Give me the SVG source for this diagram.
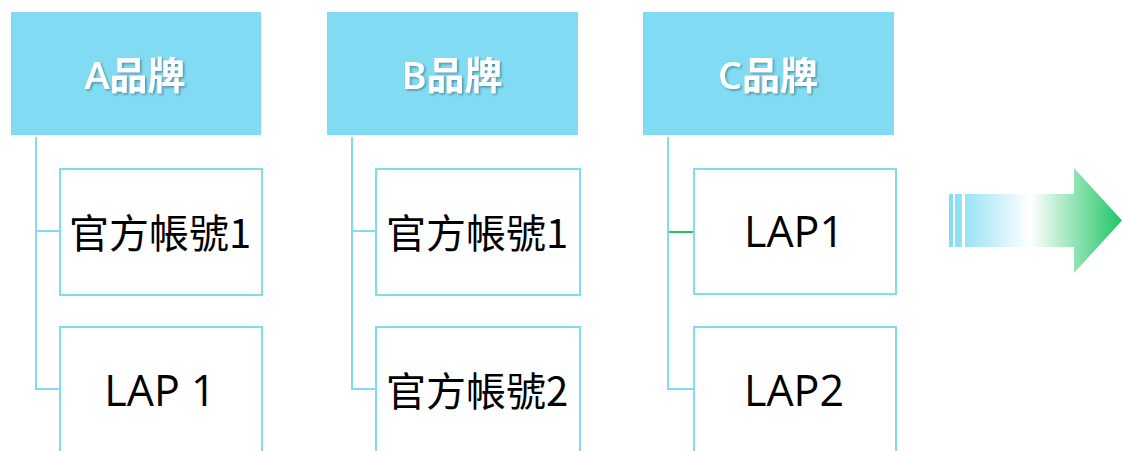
<svg xmlns="http://www.w3.org/2000/svg" width="1122" height="451" viewBox="0 0 1122 451">
<style>
.hdr{fill:#81DCF3}
.box{fill:#fff;stroke:#81DCF3;stroke-width:2}
.ln{fill:none;stroke:#81DCF3;stroke-width:2}
.ht{font-family:"Open Sans","Noto Sans CJK TC",sans-serif;font-size:38px;font-weight:600;fill:#fff;text-anchor:middle;filter:url(#sh)}
.bt{font-family:"Noto Sans CJK TC",sans-serif;font-size:40px;fill:#000;text-anchor:middle}
.lt{font-family:"Open Sans","Noto Sans CJK TC",sans-serif;font-size:43px;fill:#000;text-anchor:middle}
</style>
<defs>
<filter id="sh" x="-10%" y="-20%" width="130%" height="150%">
<feDropShadow dx="1.5" dy="1.5" stdDeviation="1" flood-color="#000" flood-opacity="0.35"/>
</filter>
<linearGradient id="ag" x1="949" y1="0" x2="1122" y2="0" gradientUnits="userSpaceOnUse">
<stop offset="0" stop-color="#81DCF3"/>
<stop offset="0.47" stop-color="#ffffff"/>
<stop offset="1" stop-color="#1FC565"/>
</linearGradient>
</defs>
<g id="connectors">
<path class="ln" d="M36 137V389H60M36 231H60"/>
<path class="ln" d="M352 137V389H376M352 231H376"/>
<path class="ln" d="M668 137V389H694"/>
<path fill="none" stroke="#1FC565" stroke-width="2" d="M669 232H693"/>
</g>
<g id="nodeA">
<rect class="hdr" x="11" y="12" width="250" height="123"/>
<text class="ht" x="135" y="89">A品牌</text>
</g>
<g id="nodeA1">
<rect class="box" x="60" y="169" width="202" height="126"/>
<text class="bt" x="160" y="248">官方帳號1</text>
</g>
<g id="nodeA2">
<rect class="box" x="60" y="327" width="202" height="140"/>
<text class="lt" x="160" y="406">LAP 1</text>
</g>
<g id="nodeB">
<rect class="hdr" x="327" y="12" width="251" height="123"/>
<text class="ht" x="452" y="89">B品牌</text>
</g>
<g id="nodeB1">
<rect class="box" x="376" y="169" width="204" height="126"/>
<text class="bt" x="477" y="248">官方帳號1</text>
</g>
<g id="nodeB2">
<rect class="box" x="376" y="327" width="204" height="140"/>
<text class="bt" x="477" y="406">官方帳號2</text>
</g>
<g id="nodeC">
<rect class="hdr" x="643" y="12" width="251" height="123"/>
<text class="ht" x="768" y="89">C品牌</text>
</g>
<g id="nodeC1">
<rect class="box" x="694" y="169" width="202" height="125"/>
<text class="lt" x="794" y="247">LAP1</text>
</g>
<g id="nodeC2">
<rect class="box" x="694" y="327" width="202" height="140"/>
<text class="lt" x="794" y="406">LAP2</text>
</g>
<g id="arrow" fill="url(#ag)">
<rect x="949" y="194" width="4" height="53"/>
<rect x="955" y="194" width="7" height="53"/>
<path d="M965 194H1074V168L1122 220.5L1074 273V247H965Z"/>
</g>
</svg>
